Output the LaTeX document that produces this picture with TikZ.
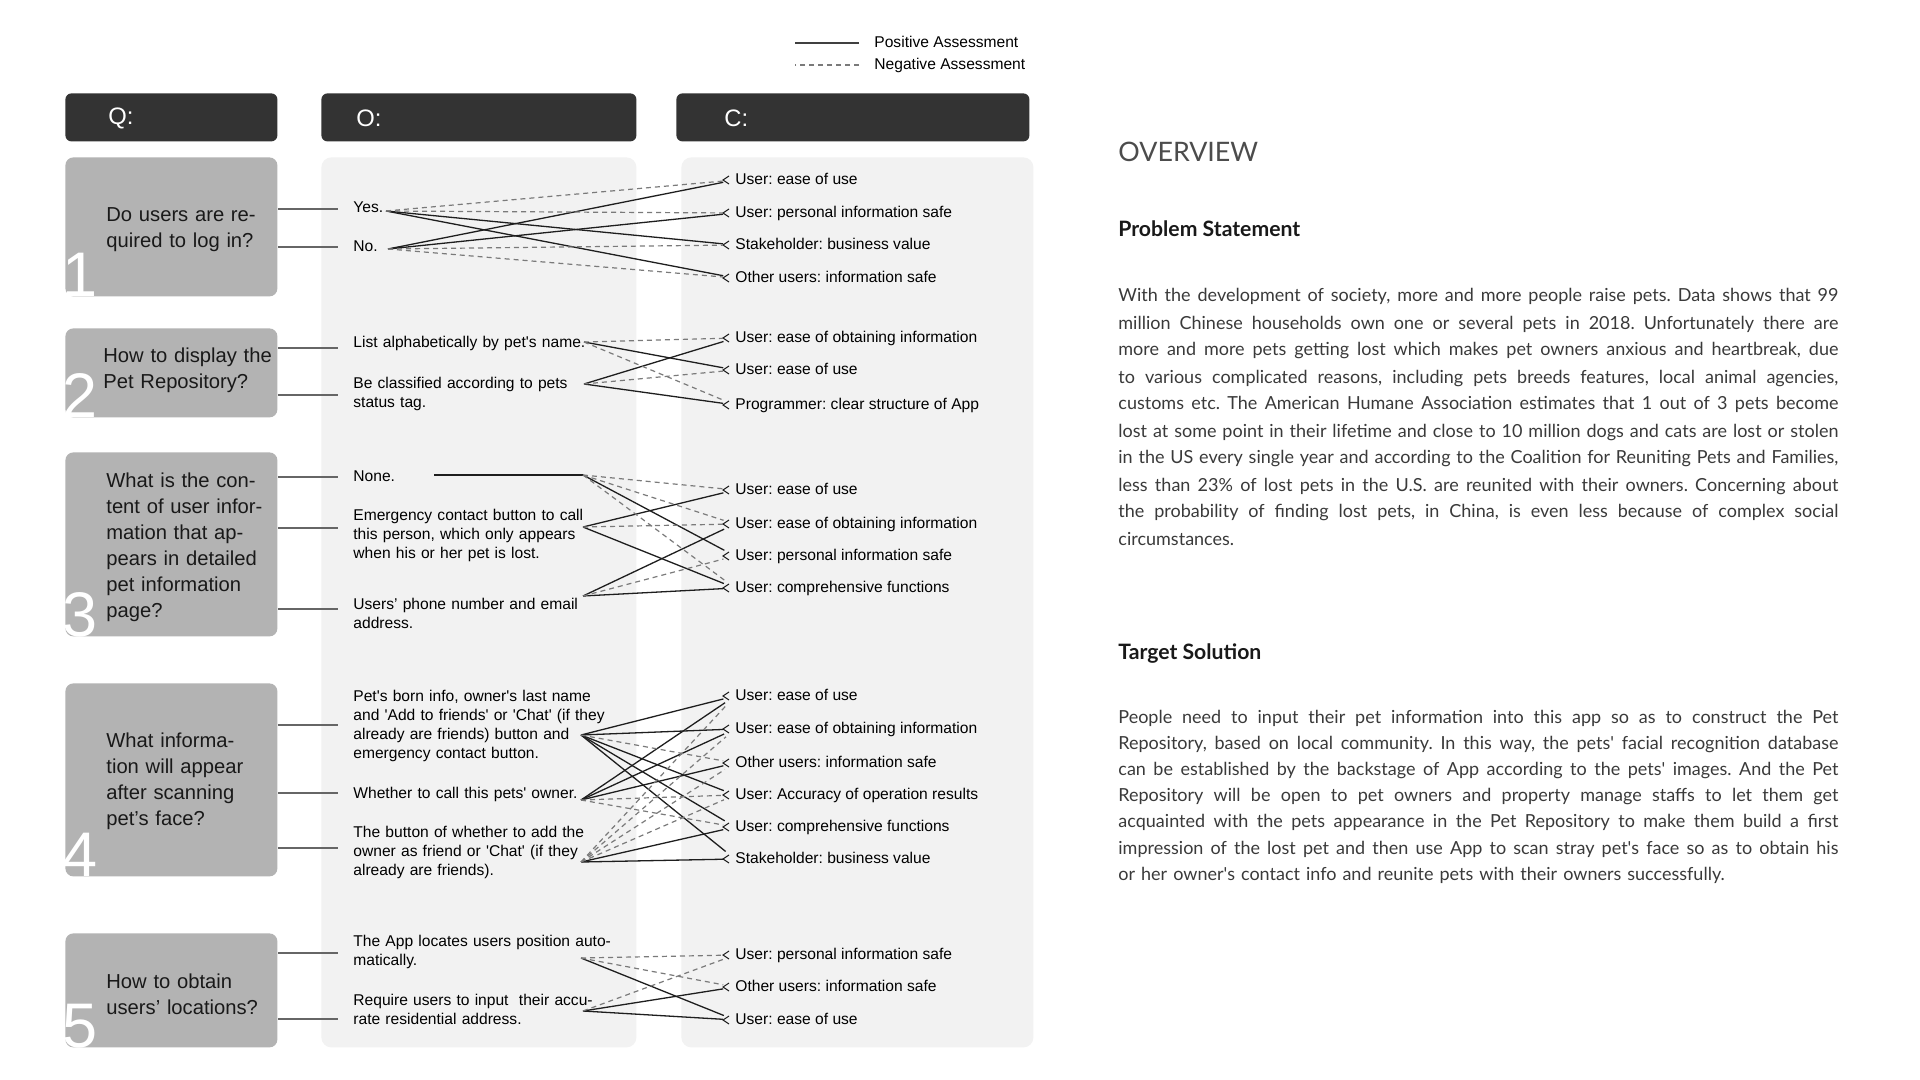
\documentclass[tikz,border=0pt]{standalone}
\usepackage{fontspec}
\setmainfont{Liberation Sans}
\newfontfamily\ovfont{Lato}
\usetikzlibrary{positioning}
\definecolor{hdrgray}{HTML}{333333}
\definecolor{qgray}{HTML}{B3B3B3}
\definecolor{panelgray}{HTML}{F2F2F2}
\definecolor{stubgray}{HTML}{666666}
\definecolor{posgray}{HTML}{1E1E1E}
\definecolor{neggray}{HTML}{7A7A7A}
\definecolor{bodygray}{HTML}{3A3A3A}
\newcommand{\sq}{\textquotesingle}
\newcommand{\jline}[1]{\leavevmode\hbox to 360pt{\spaceskip=0.25em plus 1fil minus 0.09em\relax #1}}
\frenchspacing

\begin{document}
\begin{tikzpicture}[x=0.5pt, y=-0.5pt,
  hbox/.style={fill=hdrgray, rounded corners=3pt, anchor=north west, inner sep=0pt, minimum height=24pt},
  htext/.style={anchor=west, inner sep=0pt, text=white, font=\fontsize{11.9pt}{14pt}\selectfont},
  panel/.style={fill=panelgray, rounded corners=5pt, anchor=north west, inner sep=0pt, minimum height=445pt},
  qbox/.style={fill=qgray, rounded corners=4pt, anchor=north west, inner sep=0pt, minimum width=106pt},
  qtext/.style={anchor=base west, inner sep=0pt, text width=100pt, align=left, text=black!90, font=\fontsize{10.1pt}{13pt}\selectfont},
  qnum/.style={anchor=base west, inner sep=0pt, text=white, font=\fontsize{31.5pt}{32pt}\selectfont},
  otext/.style={anchor=base west, inner sep=0pt, text width=140pt, align=left, font=\fontsize{7.8pt}{9.5pt}\selectfont},
  ctext/.style={anchor=west, inner sep=0pt, text height=6pt, text depth=1.5pt, font=\fontsize{7.8pt}{9.5pt}\selectfont},
  stub/.style={draw=stubgray, line width=0.7pt},
  posline/.style={draw=posgray, line width=0.65pt},
  negline/.style={draw=neggray, line width=0.6pt, dash pattern=on 2.5pt off 2pt},
  chev/.style={draw=posgray, line width=0.5pt},
  ovtitle/.style={anchor=base west, inner sep=0pt, text=black!70, font=\ovfont\fontsize{13.4pt}{16pt}\selectfont},
  ovhead/.style={anchor=base west, inner sep=0pt, text=black!90, font=\ovfont\bfseries\fontsize{10.6pt}{12pt}\selectfont},
  ovbody/.style={anchor=base west, inner sep=0pt, text width=370pt, align=left, text=bodygray, font=\ovfont\fontsize{9pt}{13.5pt}\selectfont}]
\useasboundingbox[fill=white] (0,0) rectangle (1920,1080);

% legend
\node[ctext] (lgpos) at (874,43) {Positive Assessment};
\node[ctext] (lgneg) at (874,65) {Negative Assessment};
\draw[posline, draw=black!75] ([xshift=-7.5pt]lgpos.west) -- ++(-64,0);
\draw[negline] ([xshift=-7.5pt]lgneg.west) -- ++(-64,0);

% headers and panels
\node[hbox, minimum width=106pt] (hq) at (65,93) {};
\node[hbox, minimum width=157.5pt] (ho) at (321,93) {};
\node[hbox, minimum width=176.5pt] (hc) at (676,93) {};
\node[htext] (hqt) at (108,118) {Q:};
\node[htext] (hot) at (356,118) {O:};
\node[htext] (hct) at (724,118) {C:};
\node[panel, minimum width=157.5pt] (po) at (321,157) {};
\node[panel, minimum width=176pt] (pc) at (681,157) {};

% questions
\node[qbox, minimum height=69.5pt] (q1) at (65,157) {};
\node[qbox, minimum height=44.5pt] (q2) at (65,328) {};
\node[qbox, minimum height=92pt] (q3) at (65,452) {};
\node[qbox, minimum height=96.5pt] (q4) at (65,683) {};
\node[qbox, minimum height=57pt] (q5) at (65,933) {};
\foreach \i in {1,...,5}{
  \begin{scope}
    \clip[rounded corners=4pt] (q\i.south west) rectangle (q\i.north east);
    \node[qnum] (n\i) at ([xshift=-1.5pt]q\i.south west) {\i};
  \end{scope}
}
\node[qtext] (qt1) at (106,222) {Do users are re-\\quired to log in?};
\node[qtext] (qt2) at (103,363) {How to display the\\Pet Repository?};
\node[qtext] (qt3) at (106,487) {What is the con-\\tent of user infor-\\mation that ap-\\pears in detailed\\pet information\\page?};
\node[qtext] (qt4) at (106,747) {What informa-\\tion will appear\\after scanning\\pet’s face?};
\node[qtext] (qt5) at (106,988) {How to obtain\\users’ locations?};

% options
\node[otext] (oyes) at (353,213) {Yes.};
\node[otext] (ono) at (353,252) {No.};
\node[otext] (olist) at (353,348) {List alphabetically by pet\sq s name.};
\node[otext] (oclass) at (353,388) {Be classified according to pets\\status tag.};
\node[otext] (onone) at (353,481) {None.};
\node[otext] (oemerg) at (353,520) {Emergency contact button to call\\this person, which only appears\\when his or her pet is lost.};
\node[otext] (ophone) at (353,609) {Users’ phone number and email\\address.};
\node[otext] (oborn) at (353,701) {Pet\sq s born info, owner\sq s last name\\and \sq Add to friends\sq{} or \sq Chat\sq{} (if they\\already are friends) button and\\emergency contact button.};
\node[otext] (ocall) at (353,798) {Whether to call this pets\sq{} owner.};
\node[otext] (obutton) at (353,837) {The button of whether to add the\\owner as friend or \sq Chat\sq{} (if they\\already are friends).};
\node[otext] (oauto) at (353,946) {The App locates users position auto-\\matically.};
\node[otext] (oinput) at (353,1005) {Require users to input\ \ their accu-\\rate residential address.};

% stub ends and fan points
\coordinate (s1a) at (338,209);  \coordinate (s1b) at (338,247);
\coordinate (s2a) at (338,348);  \coordinate (s2b) at (338,395);
\coordinate (s3a) at (338,477);  \coordinate (s3b) at (338,528);  \coordinate (s3c) at (338,609);
\coordinate (s4a) at (338,725);  \coordinate (s4b) at (338,793);  \coordinate (s4c) at (338,848);
\coordinate (s5a) at (338,953);  \coordinate (s5b) at (338,1019);
\coordinate (f1a) at (386,211);  \coordinate (f1b) at (388,249);
\coordinate (f2a) at (584,342);  \coordinate (f2b) at (584,384);
\coordinate (f3s) at (434,475);  \coordinate (f3a) at (583,475);
\coordinate (f3b) at (583,527);  \coordinate (f3c) at (583,596);
\coordinate (f4a) at (581,735);  \coordinate (f4b) at (581,800);  \coordinate (f4c) at (581,862);
\coordinate (f5a) at (581,958);  \coordinate (f5b) at (583,1011);
\foreach \q/\s in {q1/s1a, q1/s1b, q2/s2a, q2/s2b, q3/s3a, q3/s3b, q3/s3c, q4/s4a, q4/s4b, q4/s4c, q5/s5a, q5/s5b}
  \draw[stub] (\q.east |- \s) -- (\s);

% criteria
\node[ctext] (c1a) at (735,180) {User: ease of use};
\node[ctext] (c1b) at (735,213) {User: personal information safe};
\node[ctext] (c1c) at (735,245) {Stakeholder: business value};
\node[ctext] (c1d) at (735,278) {Other users: information safe};
\node[ctext] (c2a) at (735,338) {User: ease of obtaining information};
\node[ctext] (c2b) at (735,370) {User: ease of use};
\node[ctext] (c2c) at (735,405) {Programmer: clear structure of App};
\node[ctext] (c3a) at (735,490) {User: ease of use};
\node[ctext] (c3b) at (735,524) {User: ease of obtaining information};
\node[ctext] (c3c) at (735,556) {User: personal information safe};
\node[ctext] (c3d) at (735,588) {User: comprehensive functions};
\node[ctext] (c4a) at (735,696) {User: ease of use};
\node[ctext] (c4b) at (735,729) {User: ease of obtaining information};
\node[ctext] (c4c) at (735,763) {Other users: information safe};
\node[ctext] (c4d) at (735,795) {User: Accuracy of operation results};
\node[ctext] (c4e) at (735,827) {User: comprehensive functions};
\node[ctext] (c4f) at (735,859) {Stakeholder: business value};
\node[ctext] (c5a) at (735,955) {User: personal information safe};
\node[ctext] (c5b) at (735,987) {Other users: information safe};
\node[ctext] (c5c) at (735,1020) {User: ease of use};
\foreach \c in {c1a,c1b,c1c,c1d,c2a,c2b,c2c,c3a,c3b,c3c,c3d,c4a,c4b,c4c,c4d,c4e,c4f,c5a,c5b,c5c}
  \draw[chev] ([xshift=-3pt,yshift=2pt]\c.west) -- ([xshift=-6pt]\c.west) -- ([xshift=-3pt,yshift=-2pt]\c.west);

% assessments
\draw[posline] (f3s) -- (f3a);
\foreach \s/\t in {f1a/c1c, f1a/c1d, f1b/c1a, f1b/c1b,
  f2a/c2b, f2b/c2a, f2b/c2c,
  f3a/c3c, f3b/c3a, f3b/c3d, f3c/c3b, f3c/c3d,
  f4a/c4a, f4a/c4b, f4a/c4d, f4a/c4e, f4a/c4f, f4b/c4a, f4b/c4b, f4b/c4c, f4c/c4e, f4c/c4f,
  f5a/c5c, f5b/c5b, f5b/c5c}
  \draw[posline, shorten >=6pt] (\s) -- (\t.west);
\foreach \s/\t in {f1a/c1a, f1a/c1b, f1b/c1c, f1b/c1d,
  f2a/c2a, f2a/c2c, f2b/c2b,
  f3a/c3a, f3a/c3b, f3a/c3d, f3b/c3b, f3c/c3c,
  f4a/c4c, f4b/c4d, f4b/c4e, f4c/c4a, f4c/c4b, f4c/c4c, f4c/c4d,
  f5a/c5a, f5a/c5b, f5b/c5a}
  \draw[negline, shorten >=6pt] (\s) -- (\t.west);

% overview text
\node[ovtitle] (ovw) at (1118,162) {OVERVIEW};
\node[ovhead] (hps) at (1118,237) {Problem Statement};
\node[ovbody] (bps) at (1118,302) {%
\jline{With the development of society, more and more people raise pets. Data shows that 99}\\
\jline{million Chinese households own one or several pets in 2018. Unfortunately there are}\\
\jline{more and more pets getting lost which makes pet owners anxious and heartbreak, due}\\
\jline{to various complicated reasons, including pets breeds features, local animal agencies,}\\
\jline{customs etc. The American Humane Association estimates that 1 out of 3 pets become}\\
\jline{lost at some point in their lifetime and close to 10 million dogs and cats are lost or stolen}\\
\jline{in the US every single year and according to the Coalition for Reuniting Pets and Families,}\\
\jline{less than 23\% of lost pets in the U.S. are reunited with their owners. Concerning about}\\
\jline{the probability of finding lost pets, in China, is even less because of complex social}\\
circumstances.};
\node[ovhead] (hts) at (1118,659) {Target Solution};
\node[ovbody, font=\ovfont\fontsize{9pt}{13.1pt}\selectfont] (bts) at (1118,723) {%
\jline{People need to input their pet information into this app so as to construct the Pet}\\
\jline{Repository, based on local community. In this way, the pets\sq{} facial recognition database}\\
\jline{can be established by the backstage of App according to the pets\sq{} images. And the Pet}\\
\jline{Repository will be open to pet owners and property manage staffs to let them get}\\
\jline{acquainted with the pets appearance in the Pet Repository to make them build a first}\\
\jline{impression of the lost pet and then use App to scan stray pet\sq s face so as to obtain his}\\
or her owner\sq s contact info and reunite pets with their owners successfully.};
\end{tikzpicture}
\end{document}
